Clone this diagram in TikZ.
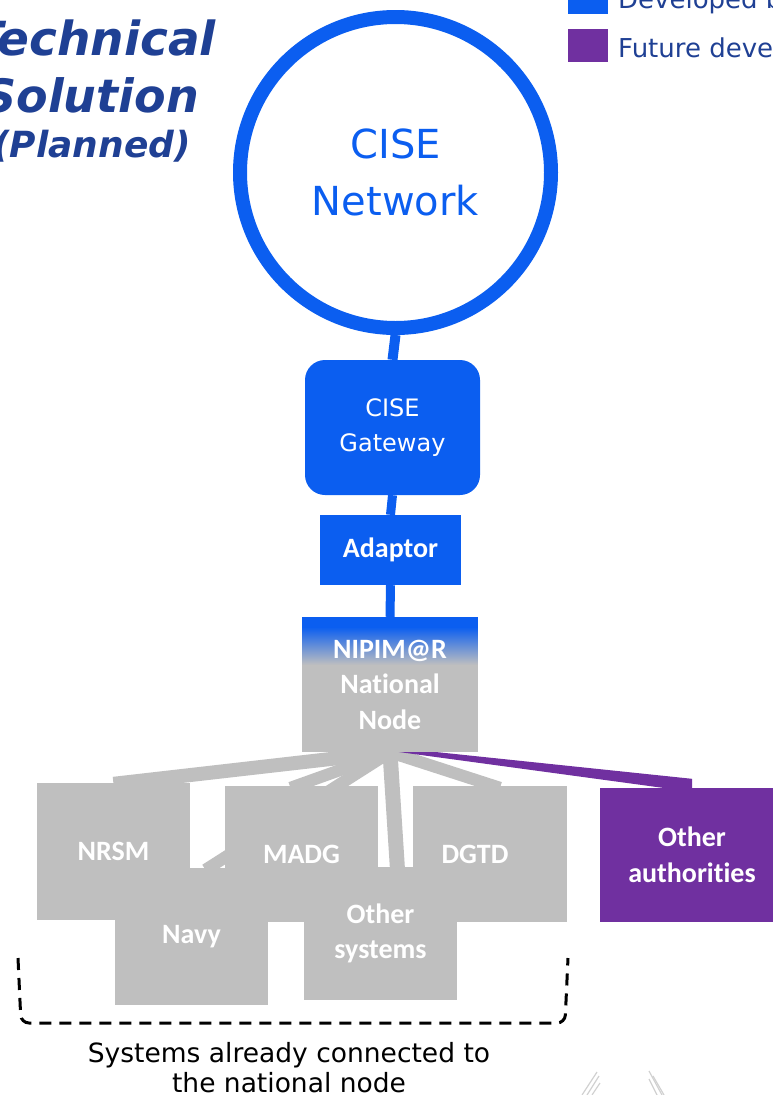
\documentclass[tikz,border=0pt]{standalone}
\usepackage{fontspec}
\setmainfont{DejaVu Sans}
\newfontfamily\carl[Ligatures=NoCommon]{Carlito}
\usetikzlibrary{calc}
\pgfdeclarelayer{bg}\pgfsetlayers{bg,main}
\definecolor{cblue}{RGB}{11,94,240}
\definecolor{tblue}{RGB}{31,64,148}
\definecolor{cgray}{RGB}{191,191,191}
\definecolor{cpurp}{RGB}{112,48,160}
\begin{document}
\begin{tikzpicture}[x=1pt,y=-1pt,
  box/.style={rectangle,inner sep=0pt,text=white,align=center},
  graybox/.style={box,fill=cgray,font=\carl\bfseries\fontsize{28}{35}\selectfont},
  bluelink/.style={draw=cblue,line width=10pt},
  graylink/.style={draw=cgray,line width=12pt},
  titletext/.style={text=tblue,inner sep=0pt,anchor=base east,font=\bfseries\itshape\fontsize{#1}{#1}\selectfont},
  legendtext/.style={text=tblue,inner sep=0pt,anchor=base west,font=\fontsize{26}{30}\selectfont}]
\useasboundingbox (0,0) rectangle (773,1095);
\clip (0,0) rectangle (773,1095);

% title
\node[titletext=47] (t1) at (216,55) {Technical};
\node[titletext=46] (t2) at (199,112) {Solution};
\node[titletext=36] (t3) at (191,157) {(Planned)};

% legend
\fill[cblue] (568,-10) rectangle (608,14);
\fill[cpurp] (568,29) rectangle (608,62);
\node[legendtext] (l1) at (618,8) {Developed by};
\node[legendtext] (l2) at (618,57) {Future development};

% main chain
\node[circle,draw=cblue,line width=14pt,minimum size=311pt,inner sep=0pt,
      text=cblue,align=center,font=\fontsize{40}{57}\selectfont] (net) at (395.5,172.5) {CISE\\Network};
\node[box,fill=cblue,rounded corners=20pt,minimum width=175pt,minimum height=135pt,
      font=\fontsize{24}{35}\selectfont] (gw) at (392.5,427.5) {CISE\\Gateway};
\node[box,fill=cblue,minimum width=141pt,minimum height=70pt,
      font=\carl\bfseries\fontsize{28}{34}\selectfont] (ad) at (390.5,550) {Adaptor};
\node[graybox,minimum width=176pt,minimum height=135pt,
      path picture={
        \foreach \i in {0,...,47}{
          \pgfmathsetmacro{\pct}{\i<10 ? 100 : 100-(\i-10)*100/38}
          \fill[cblue!\pct!cgray]
            ($(path picture bounding box.north west)+(0,\i)$) rectangle
            ($(path picture bounding box.north east)+(0,\i+1.2)$);
        }},
      font=\carl\bfseries\fontsize{28}{35.5}\selectfont] (nip) at (390,684.5) {NIPIM@R\\National\\Node};

% systems
\node[graybox,minimum width=153pt,minimum height=137pt] (nrsm) at (113.5,851.5) {NRSM};
\node[graybox,minimum width=153pt,minimum height=136pt] (madg) at (301.5,854) {MADG};
\node[graybox,minimum width=154pt,minimum height=136pt] (dgtd) at (490,854) {DGTD\hspace*{30pt}};
\node[graybox,minimum width=153pt,minimum height=137pt] (navy) at (191.5,936.5) {Navy};
\node[graybox,minimum width=153pt,minimum height=133pt] (oth) at (380.5,933.5) {Other\\systems};
\node[box,fill=cpurp,minimum width=184pt,minimum height=134pt,
      font=\carl\bfseries\fontsize{28}{36}\selectfont] (oa) at (692,855) {Other\\authorities};

\begin{pgfonlayer}{bg}
  \draw[bluelink] (net.south) -- (gw.north);
  \draw[bluelink,line width=9pt] (gw.south) -- (ad.north);
  \draw[bluelink,line width=9pt] (ad.south) -- (nip.north);
  \draw[graylink,line width=14pt] (nip.south) -- ($(nrsm.north)+(0,1)$);
  \draw[graylink] (nip.south) -- ($(madg.north)+(-11,2)$);
  \draw[graylink] (nip.south) -- ($(navy.north)+(14,2)$);
  \draw[graylink,line width=15pt] (nip.south) -- ($(oth.north)+(17,3)$);
  \draw[graylink] (nip.south) -- ($(dgtd.north)+(10,2)$);
  \fill[cpurp] ($(nip.south)+(0,-5)$) -- ($(oa.north)+(0,-9)$) -- ($(oa.north)+(0,4)$) -- ($(nip.south)+(3,-1)$) -- cycle;
\end{pgfonlayer}

% bracket and caption
\draw[line width=3pt,dash pattern=on 12pt off 8pt,rounded corners=8pt]
  (18,958) -- (21,1023) -- (565,1023) -- (568,958);
\node[inner sep=0pt,align=center,font=\fontsize{26.5}{30}\selectfont] (cap) at (289,1068)
  {Systems already connected to\\the national node};

% faint logo fragment
\begin{scope}[draw=black!18,line width=1.2pt]
  \draw (582,1095) -- (597,1072);
  \draw (587,1095) -- (599,1076);
  \draw (592,1095) -- (600,1083);
  \draw (649,1071) -- (662,1095);
  \draw (649,1079) -- (657,1095);
  \draw (653,1076) -- (664,1095);
\end{scope}
\end{tikzpicture}
\end{document}
